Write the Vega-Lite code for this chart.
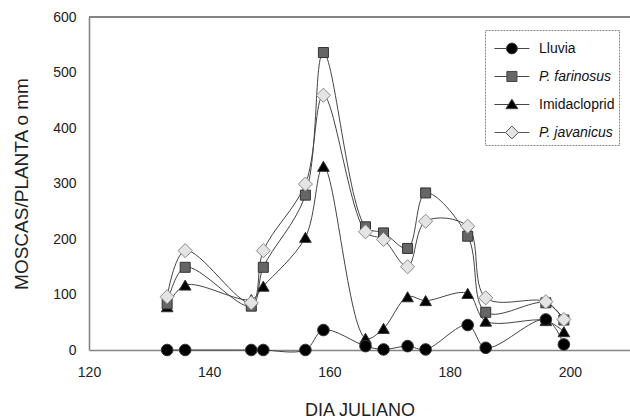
{
  "$schema": "https://vega.github.io/schema/vega-lite/v6.json",
  "width": 541,
  "height": 333,
  "autosize": {"type": "none"},
  "padding": {"left": 89, "top": 17, "right": 0, "bottom": 69},
  "background": "white",
  "config": {
    "view": {"stroke": null},
    "font": "Liberation Sans",
    "axis": {
      "domainColor": "#858585",
      "domainWidth": 1.6,
      "ticks": false,
      "tickSize": 0,
      "grid": false,
      "labelFlush": false,
      "labelFont": "Liberation Sans",
      "labelFontSize": 14,
      "labelColor": "#222222",
      "titleFont": "Liberation Sans",
      "titleFontSize": 18,
      "titleFontWeight": "normal",
      "titleColor": "#222222"
    },
    "legend": {
      "orient": "none",
      "legendX": 396,
      "legendY": 13,
      "padding": 4,
      "strokeColor": "#8a8a8a",
      "strokeDash": [2, 1],
      "fillColor": "white",
      "symbolSize": 784,
      "symbolStrokeWidth": 1,
      "symbolStrokeColor": "#444444",
      "rowPadding": 6,
      "labelOffset": 21,
      "labelFont": "Liberation Sans",
      "labelFontSize": 14,
      "labelColor": "#111111",
      "labelLimit": 200
    }
  },
  "data": {
    "values": [
      {"day": 133, "value": 78, "series": "Imidacloprid"},
      {"day": 136, "value": 117, "series": "Imidacloprid"},
      {"day": 147, "value": 91, "series": "Imidacloprid"},
      {"day": 149, "value": 115, "series": "Imidacloprid"},
      {"day": 156, "value": 203, "series": "Imidacloprid"},
      {"day": 159, "value": 331, "series": "Imidacloprid"},
      {"day": 166, "value": 21, "series": "Imidacloprid"},
      {"day": 169, "value": 39, "series": "Imidacloprid"},
      {"day": 173, "value": 96, "series": "Imidacloprid"},
      {"day": 176, "value": 89, "series": "Imidacloprid"},
      {"day": 183, "value": 102, "series": "Imidacloprid"},
      {"day": 186, "value": 52, "series": "Imidacloprid"},
      {"day": 196, "value": 53, "series": "Imidacloprid"},
      {"day": 199, "value": 33, "series": "Imidacloprid"},
      {"day": 133, "value": 0, "series": "Lluvia"},
      {"day": 136, "value": 0, "series": "Lluvia"},
      {"day": 147, "value": 0, "series": "Lluvia"},
      {"day": 149, "value": 0, "series": "Lluvia"},
      {"day": 156, "value": 0, "series": "Lluvia"},
      {"day": 159, "value": 36, "series": "Lluvia"},
      {"day": 166, "value": 7, "series": "Lluvia"},
      {"day": 169, "value": 1, "series": "Lluvia"},
      {"day": 173, "value": 7, "series": "Lluvia"},
      {"day": 176, "value": 1, "series": "Lluvia"},
      {"day": 183, "value": 45, "series": "Lluvia"},
      {"day": 186, "value": 4, "series": "Lluvia"},
      {"day": 196, "value": 55, "series": "Lluvia"},
      {"day": 199, "value": 10, "series": "Lluvia"},
      {"day": 133, "value": 83, "series": "P. farinosus"},
      {"day": 136, "value": 149, "series": "P. farinosus"},
      {"day": 147, "value": 79, "series": "P. farinosus"},
      {"day": 149, "value": 149, "series": "P. farinosus"},
      {"day": 156, "value": 279, "series": "P. farinosus"},
      {"day": 159, "value": 536, "series": "P. farinosus"},
      {"day": 166, "value": 222, "series": "P. farinosus"},
      {"day": 169, "value": 211, "series": "P. farinosus"},
      {"day": 173, "value": 183, "series": "P. farinosus"},
      {"day": 176, "value": 283, "series": "P. farinosus"},
      {"day": 183, "value": 205, "series": "P. farinosus"},
      {"day": 186, "value": 68, "series": "P. farinosus"},
      {"day": 196, "value": 85, "series": "P. farinosus"},
      {"day": 199, "value": 54, "series": "P. farinosus"},
      {"day": 133, "value": 96, "series": "P. javanicus"},
      {"day": 136, "value": 179, "series": "P. javanicus"},
      {"day": 147, "value": 85, "series": "P. javanicus"},
      {"day": 149, "value": 179, "series": "P. javanicus"},
      {"day": 156, "value": 299, "series": "P. javanicus"},
      {"day": 159, "value": 459, "series": "P. javanicus"},
      {"day": 166, "value": 213, "series": "P. javanicus"},
      {"day": 169, "value": 199, "series": "P. javanicus"},
      {"day": 173, "value": 150, "series": "P. javanicus"},
      {"day": 176, "value": 232, "series": "P. javanicus"},
      {"day": 183, "value": 223, "series": "P. javanicus"},
      {"day": 186, "value": 94, "series": "P. javanicus"},
      {"day": 196, "value": 87, "series": "P. javanicus"},
      {"day": 199, "value": 55, "series": "P. javanicus"}
    ]
  },
  "encoding": {
    "x": {
      "field": "day",
      "type": "quantitative",
      "scale": {"domain": [120, 210], "nice": false, "zero": false},
      "axis": {"values": [120, 140, 160, 180, 200], "title": "DIA JULIANO", "labelPadding": 15, "titlePadding": 22}
    },
    "y": {
      "field": "value",
      "type": "quantitative",
      "scale": {"domain": [0, 600], "nice": false},
      "axis": {"values": [0, 100, 200, 300, 400, 500, 600], "title": "MOSCAS/PLANTA o mm", "labelPadding": 13, "titlePadding": 21, "titleFontSize": 19}
    }
  },
  "resolve": {
    "scale": {"fill": "independent", "shape": "independent", "stroke": "independent"},
    "legend": {"fill": "independent", "shape": "independent", "stroke": "independent"}
  },
  "layer": [
    {
      "mark": {"type": "rule", "color": "#858585", "strokeWidth": 1.6},
      "encoding": {"y": {"datum": 600}, "x": null}
    },
    {
      "mark": {"type": "line", "interpolate": "catmull-rom", "color": "#444444", "strokeWidth": 1},
      "encoding": {"detail": {"field": "series"}}
    },
    {
      "mark": {"type": "point", "filled": true, "opacity": 1, "strokeWidth": 1},
      "encoding": {
        "shape": {
          "field": "series",
          "type": "nominal",
          "scale": {
            "domain": ["Lluvia", "P. farinosus", "Imidacloprid", "P. javanicus"],
            "range": ["circle", "square", "triangle-up", "diamond"]
          },
          "legend": null
        },
        "fill": {
          "field": "series",
          "type": "nominal",
          "scale": {
            "domain": ["Lluvia", "P. farinosus", "Imidacloprid", "P. javanicus"],
            "range": ["#000000", "#666666", "#000000", "#e4e4e4"]
          },
          "legend": null
        },
        "stroke": {
          "condition": {"test": "datum.series === 'P. javanicus'", "value": "#8a8a8a"},
          "value": "#333333"
        },
        "size": {
          "condition": [
            {"test": "datum.series === 'P. javanicus'", "value": 200},
            {"test": "datum.series === 'P. farinosus'", "value": 100}
          ],
          "value": 135
        }
      }
    },
    {
      "data": {"values": []},
      "mark": {"type": "point", "filled": true, "opacity": 1, "strokeWidth": 1},
      "encoding": {
        "shape": {
          "field": "series",
          "type": "nominal",
          "title": null,
          "scale": {
            "domain": ["Lluvia", "P. farinosus", "Imidacloprid", "P. javanicus"],
            "range": [
              "M-0.65,0H0.21M0.99,0H1.85M0.99,0A0.39,0.39,0,1,1,0.21,0A0.39,0.39,0,1,1,0.99,0Z",
              "M-0.65,0H0.24M0.96,0H1.85M0.24,-0.36H0.96V0.36H0.24Z",
              "M-0.65,0H0.36M0.84,0H1.85M0.6,-0.38L1.03,0.3H0.17Z",
              "M-0.65,0H0.14M1.06,0H1.85M0.6,-0.46L1.06,0L0.6,0.46L0.14,0Z"
            ]
          },
          "legend": {
            "labelFontStyle": {"expr": "datum.label === 'P. farinosus' || datum.label === 'P. javanicus' ? 'italic' : 'normal'"}
          }
        },
        "fill": {
          "field": "series",
          "type": "nominal",
          "title": null,
          "scale": {
            "domain": ["Lluvia", "P. farinosus", "Imidacloprid", "P. javanicus"],
            "range": ["#000000", "#666666", "#000000", "#e4e4e4"]
          },
          "legend": {
            "labelFontStyle": {"expr": "datum.label === 'P. farinosus' || datum.label === 'P. javanicus' ? 'italic' : 'normal'"}
          }
        },
        "stroke": {
          "field": "series",
          "type": "nominal",
          "title": null,
          "scale": {
            "domain": ["Lluvia", "P. farinosus", "Imidacloprid", "P. javanicus"],
            "range": ["#444444", "#444444", "#444444", "#555555"]
          },
          "legend": {
            "labelFontStyle": {"expr": "datum.label === 'P. farinosus' || datum.label === 'P. javanicus' ? 'italic' : 'normal'"}
          }
        }
      }
    }
  ]
}
